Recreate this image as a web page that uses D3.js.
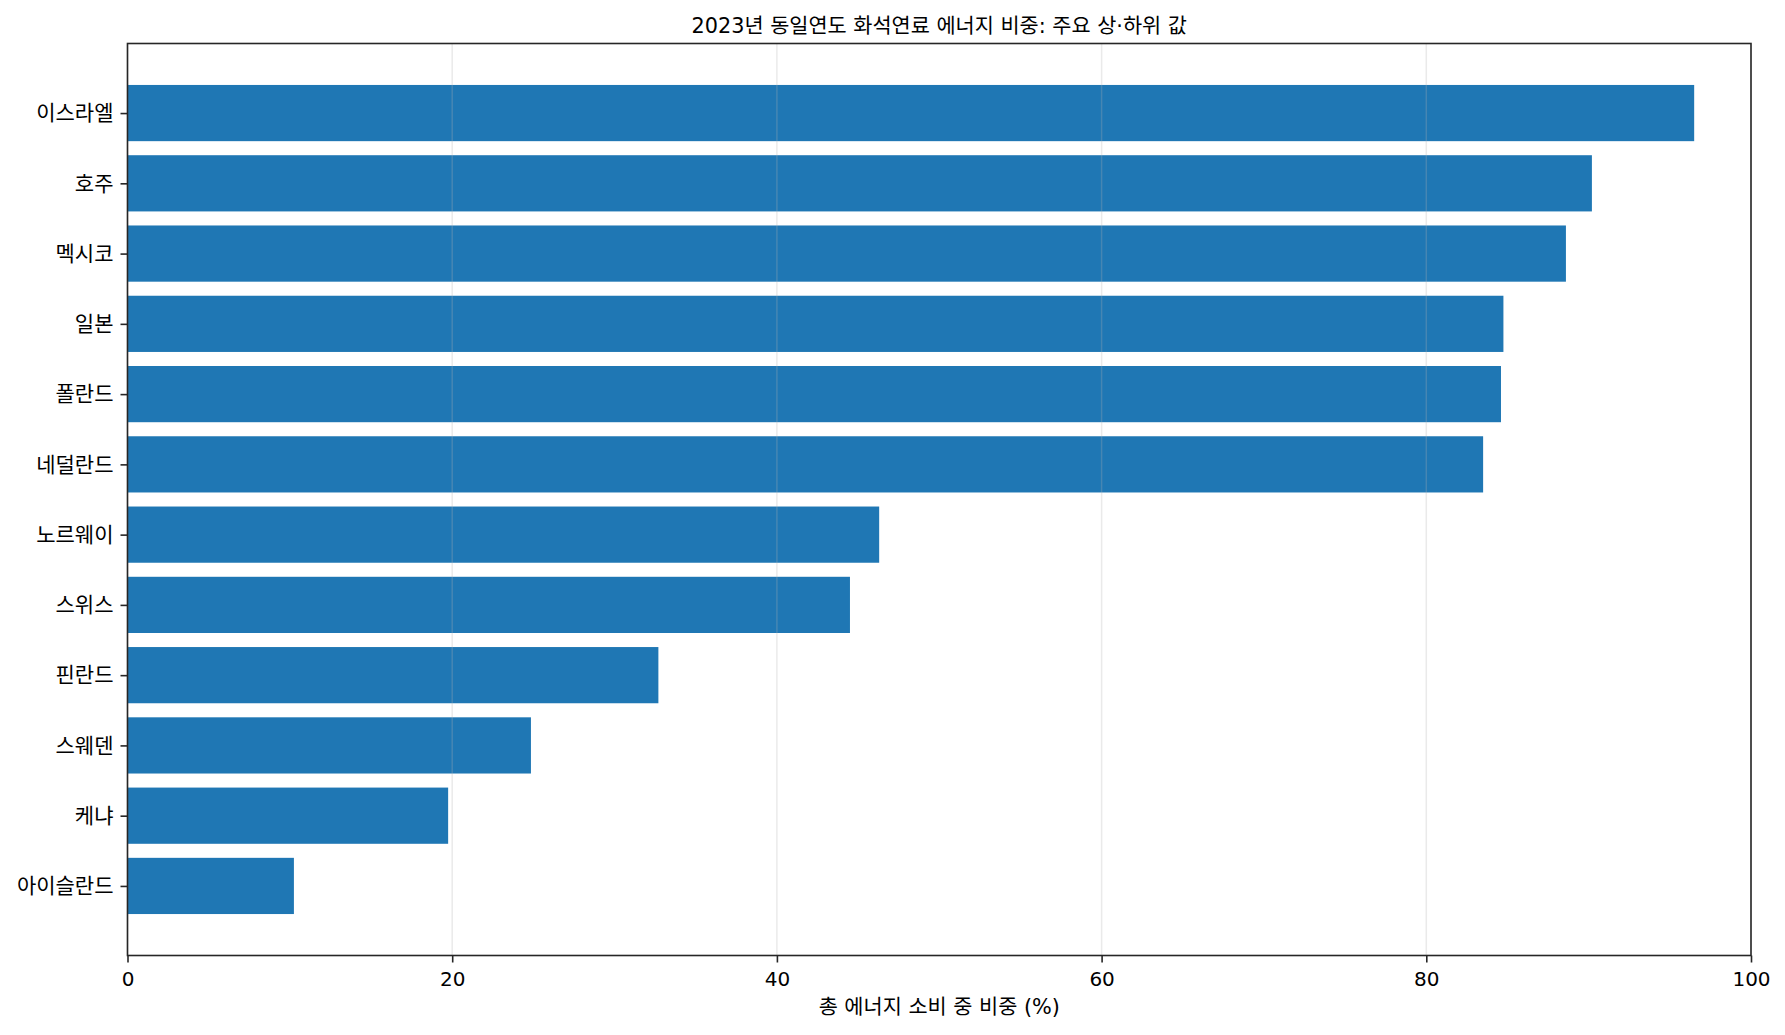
<!DOCTYPE html>
<html>
<head>
<meta charset="utf-8">
<script src="https://cdn.jsdelivr.net/npm/d3@7"></script>
<style>
  body { margin: 0; background: #fff; }
  svg { display: block; font-family: "DejaVu Sans", "Noto Sans CJK KR", sans-serif; }
</style>
</head>
<body>
<svg id="canvas" width="1785" height="1035"></svg>
<script>
// data (top to bottom)
const countries = ["이스라엘","호주","멕시코","일본","폴란드","네덜란드","노르웨이","스위스","핀란드","스웨덴","케냐","아이슬란드"];
const shares = [96.5, 90.2, 88.6, 84.75, 84.6, 83.5, 46.3, 44.5, 32.7, 24.85, 19.75, 10.25];
const xTicks = [0, 20, 40, 60, 80, 100];

const title = "2023년 동일연도 화석연료 에너지 비중: 주요 상·하위 값";
const xLabel = "총 에너지 소비 중 비중 (%)";

const svg = d3.select("#canvas");
const plotL = 127.5, plotR = 1751, plotT = 43.5, plotB = 955.5;
const fontStack = "'DejaVu Sans', 'Noto Sans CJK KR', sans-serif";

const x = d3.scaleLinear().domain([0, 100]).range([plotL, plotR]);
// matplotlib-like margins around the bars
const y = d3.scaleLinear().domain([-0.99, countries.length - 1 + 0.99]).range([plotT, plotB]);
const barH = y(0.4) - y(-0.4);

// bars
svg.append("g").selectAll("rect").data(shares).join("rect")
  .attr("x", x(0))
  .attr("y", (d,i) => y(i) - barH/2)
  .attr("width", d => x(d) - x(0))
  .attr("height", barH)
  .attr("fill", "#1f77b4");

// grid on top, translucent
svg.append("g").selectAll("line").data(xTicks).join("line")
  .attr("x1", d => x(d)).attr("x2", d => x(d))
  .attr("y1", plotT).attr("y2", plotB)
  .attr("stroke", "#b0b0b0").attr("stroke-opacity", 0.27).attr("stroke-width", 1.5);

// frame
svg.append("rect")
  .attr("x", plotL).attr("y", plotT)
  .attr("width", plotR - plotL).attr("height", plotB - plotT)
  .attr("fill", "none").attr("stroke", "#262626").attr("stroke-width", 1.6);

// x axis
const xAxis = svg.append("g")
  .attr("transform", `translate(0,${plotB})`)
  .call(d3.axisBottom(x).tickValues(xTicks).tickSize(7).tickPadding(9).tickFormat(d3.format("d")));
xAxis.select(".domain").remove();
xAxis.selectAll("line").attr("stroke", "#262626").attr("stroke-width", 1.6);
xAxis.selectAll("text").attr("font-size", 20).attr("fill", "#000")
  .attr("font-family", fontStack);

// y axis
const yAxis = svg.append("g")
  .attr("transform", `translate(${plotL},0)`)
  .call(d3.axisLeft(y).tickValues(d3.range(countries.length)).tickSize(7).tickPadding(7)
    .tickFormat(i => countries[i]));
yAxis.select(".domain").remove();
yAxis.selectAll("line").attr("stroke", "#262626").attr("stroke-width", 1.6);
yAxis.selectAll("text").attr("font-size", 21).attr("fill", "#000")
  .attr("font-family", fontStack);

// titles
svg.append("text")
  .attr("x", (plotL + plotR)/2).attr("y", 33)
  .attr("text-anchor", "middle").attr("font-size", 20.8).attr("fill", "#000")
  .text(title);

svg.append("text")
  .attr("x", (plotL + plotR)/2).attr("y", 1014)
  .attr("text-anchor", "middle").attr("font-size", 20.8).attr("fill", "#000")
  .text(xLabel);
</script>
</body>
</html>
